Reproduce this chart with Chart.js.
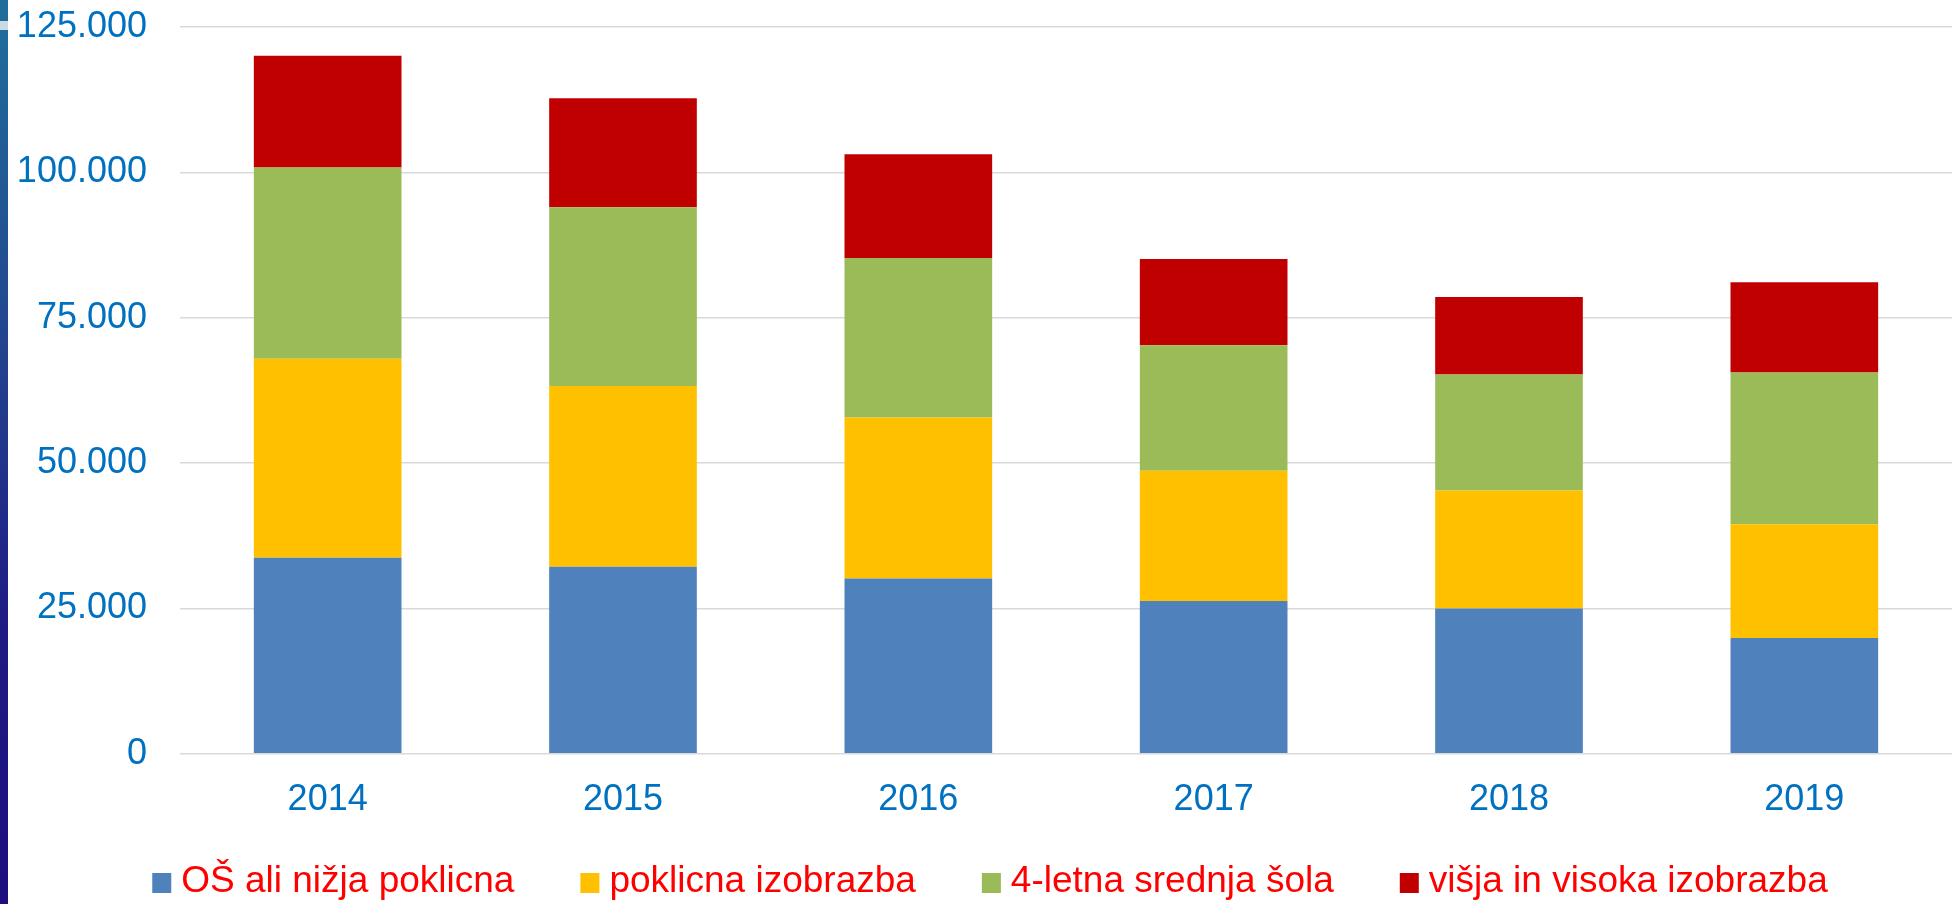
<!DOCTYPE html>
<html>
<head>
<meta charset="utf-8">
<script src="https://cdn.jsdelivr.net/npm/chart.js@4.4.1/dist/chart.umd.min.js"></script>
<style>
  html, body { margin: 0; padding: 0; background: #ffffff; overflow: hidden; }
  #wrap { position: relative; width: 1952px; height: 904px; }
  #strip { position: absolute; left: 0; top: 0; width: 8px; height: 904px;
           background: linear-gradient(to bottom, #1f6f9a 0%, #22488f 35%, #1f1a84 70%, #1e0e7e 100%); }
  #strip-box { position: absolute; left: 0; top: 21px; width: 8px; height: 9px; background: #c9d9e6; }
  canvas { position: absolute; left: 0; top: 0; }
</style>
</head>
<body>
<div id="wrap">
  <canvas id="c" width="1952" height="904"></canvas>
  <div id="strip"></div>
  <div id="strip-box"></div>
</div>
<script>
// ---- Data ----
const categories = ['2014', '2015', '2016', '2017', '2018', '2019'];
const seriesNames = ['OŠ ali nižja poklicna', 'poklicna izobrazba', '4-letna srednja šola', 'višja in visoka izobrazba'];
const osNizja = [33700, 32150, 30150, 26300, 25000, 19900];
const poklicna = [34250, 31100, 27700, 22400, 20300, 19600];
const srednja = [32900, 30750, 27400, 21550, 19950, 26100];
const visja = [19200, 18750, 17850, 14850, 13300, 15500];
const yTickValues = [0, 25000, 50000, 75000, 100000, 125000];

const colors = ['#4F81BD', '#FFC000', '#9BBB59', '#C00000'];
const FONT = '"Liberation Sans", Arial, sans-serif';
const TICK_COLOR = '#0070C0';

function fmt(v) {
  if (v === 0) return '0';
  const s = String(Math.round(v));
  return s.replace(/\B(?=(\d{3})+(?!\d))/g, '.');
}

// custom legend drawn at the bottom of the canvas
const bottomLegend = {
  id: 'bottomLegend',
  afterDraw(chart) {
    const ctx = chart.ctx;
    const ds = chart.data.datasets;
    const fontSize = 37;
    const box = 19, boxGap = 10, itemGap = 66;
    ctx.save();
    ctx.font = fontSize + 'px ' + FONT;
    const widths = ds.map(d => ctx.measureText(d.label).width);
    const total = widths.reduce((a, w) => a + box + boxGap + w, 0) + itemGap * (ds.length - 1);
    let x = 990 - total / 2;
    const baseline = 892;
    ds.forEach((d, i) => {
      ctx.fillStyle = d.backgroundColor;
      ctx.fillRect(x, baseline - 19, box, 20);
      x += box + boxGap;
      ctx.fillStyle = '#FF0000';
      ctx.textBaseline = 'alphabetic';
      ctx.textAlign = 'left';
      ctx.fillText(d.label, x, baseline);
      x += widths[i] + itemGap;
    });
    ctx.restore();
  }
};

const seriesData = [osNizja, poklicna, srednja, visja];

new Chart(document.getElementById('c'), {
  type: 'bar',
  data: {
    labels: categories,
    datasets: seriesNames.map((name, i) => ({
      label: name,
      data: seriesData[i],
      backgroundColor: colors[i],
      borderWidth: 0,
      barPercentage: 1.0,
      categoryPercentage: 0.5
    }))
  },
  options: {
    responsive: false,
    devicePixelRatio: 1,
    animation: false,
    layout: { padding: { top: 27, right: 0, bottom: 57, left: 0 } },
    plugins: {
      legend: { display: false },
      tooltip: { enabled: false }
    },
    scales: {
      x: {
        stacked: true,
        afterFit(scale) { scale.paddingLeft = 0; scale.paddingRight = 0; },
        grid: { display: false, drawTicks: false },
        border: { display: false },
        ticks: {
          color: TICK_COLOR,
          font: { family: FONT, size: 36 },
          padding: 25,
          maxRotation: 0
        }
      },
      y: {
        stacked: true,
        min: 0,
        max: 125000,
        afterFit(scale) { scale.width = 180; scale.paddingTop = 0; scale.paddingBottom = 0; },
        afterBuildTicks(scale) { scale.ticks = yTickValues.map(v => ({ value: v })); },
        grid: { color: '#D9D9D9', lineWidth: 1.5, drawTicks: false },
        border: { display: false },
        ticks: {
          color: TICK_COLOR,
          font: { family: FONT, size: 36 },
          padding: 33,
          callback: (v) => fmt(v)
        }
      }
    }
  },
  plugins: [bottomLegend]
});
</script>
</body>
</html>
